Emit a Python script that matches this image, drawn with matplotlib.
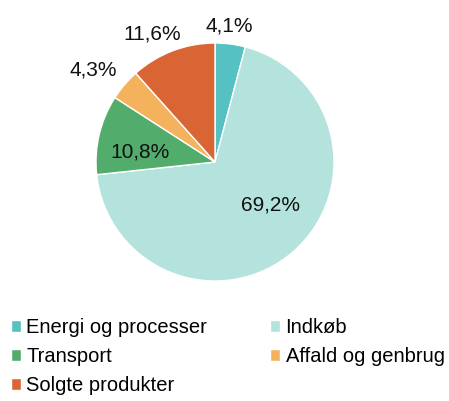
import matplotlib
matplotlib.use("Agg")
import matplotlib.pyplot as plt
import numpy as np

categories = ["Energi og processer", "Indkøb", "Transport", "Affald og genbrug", "Solgte produkter"]
values = [4.1, 69.2, 10.8, 4.3, 11.6]
value_labels = ["4,1%", "69,2%", "10,8%", "4,3%", "11,6%"]
colors = ["#55C1C3", "#B4E2DC", "#52AD6C", "#F4B25C", "#D96535"]

# label placement (radius, angle offset in degrees from wedge middle)
label_r = [1.15, 0.59, 0.64, 1.28, 1.2]
label_dang = [1.5, 12.0, 5.5, 3.5, 5.0]

plt.rcParams['font.family'] = ['Liberation Sans', 'DejaVu Sans']

W, H = 449, 401
fig = plt.figure(figsize=(W / 100, H / 100), dpi=100)
cx, cy, R = 215, 162, 119
ax = fig.add_axes([(cx - R) / W, 1 - (cy + R) / H, 2 * R / W, 2 * R / H])
wedges, _ = ax.pie(values, colors=colors, startangle=90, counterclock=False,
                   radius=1, wedgeprops=dict(edgecolor="white", linewidth=1))
ax.set_xlim(-1, 1)
ax.set_ylim(-1, 1)
ax.set_aspect("equal")
ax.axis("off")

for w, lab, r, da in zip(wedges, value_labels, label_r, label_dang):
    mid = (w.theta1 + w.theta2) / 2 + da
    x = r * np.cos(np.deg2rad(mid))
    y = r * np.sin(np.deg2rad(mid))
    ax.text(x, y, lab, ha="center", va="center", fontsize=15, color="#111111", clip_on=False)

order = [0, 2, 4, 1, 3]
fig.legend([wedges[i] for i in order], [categories[i] for i in order],
           ncol=2, loc="upper left", bbox_to_anchor=(11 / W, 1 - 318 / H),
           frameon=False, fontsize=14.5, handlelength=0.5, handleheight=0.5,
           handletextpad=0.25, columnspacing=3.15, labelspacing=0.5, borderpad=0,
           borderaxespad=0)

fig.savefig("out.png", dpi=100, facecolor="white")
